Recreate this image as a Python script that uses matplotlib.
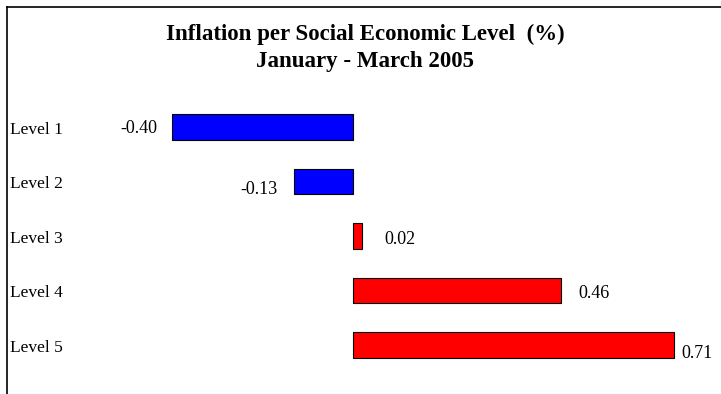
import matplotlib
matplotlib.use("Agg")
import matplotlib.pyplot as plt
from matplotlib.lines import Line2D
import matplotlib.transforms as mtransforms

levels = ["Level 1", "Level 2", "Level 3", "Level 4", "Level 5"]
inflation = [-0.40, -0.13, 0.02, 0.46, 0.71]
value_labels = ["-0.40", "-0.13", "0.02", "0.46", "0.71"]
# label offsets (pixels) from the bar end, as in the original layout
label_dx = [-15, -17, 22, 17, 7]
label_dy = [-2, -8, -4, -3, -9]

plt.rcParams["font.family"] = ["Liberation Serif", "DejaVu Serif"]

fig = plt.figure(figsize=(7.21, 3.94), dpi=100)
fig.patch.set_facecolor("white")
ax = fig.add_axes([0, 0, 1, 1])
ax.axis("off")

# 452 px per unit, zero at x=353 px; category pitch 54.5 px, first at y=127 px
ax.set_xlim(-353 / 452, (721 - 353) / 452)
ax.set_ylim((394 - 127) / 54.5, -127 / 54.5)

colors = ["#0000ff" if v < 0 else "#ff0000" for v in inflation]
ypos = list(range(len(levels)))
ax.barh(ypos, inflation, height=0.47, color=colors, edgecolor="black", linewidth=0.8)

for y, v, lab, dx, dy in zip(ypos, inflation, value_labels, label_dx, label_dy):
    ax.annotate(lab, (v, y), xytext=(dx, dy), textcoords="offset pixels",
                ha="right" if v < 0 else "left", va="center", fontsize=13)

# category names, left aligned near the frame
for y, name in zip(ypos, levels):
    ax.annotate(name, (10 / 721, y), xycoords=("axes fraction", "data"),
                xytext=(0, -3), textcoords="offset pixels",
                ha="left", va="center", fontsize=12.5)

fig.text(365 / 721, 1 - 34 / 394, "Inflation per Social Economic Level  (%)",
         ha="center", va="center", fontsize=16.5, fontweight="bold")
fig.text(365 / 721, 1 - 61 / 394, "January - March 2005",
         ha="center", va="center", fontsize=16.5, fontweight="bold")

# frame lines (top and left) of the chart area
fig.add_artist(Line2D([7 / 721, 1], [1 - 7 / 394, 1 - 7 / 394], color="black", lw=1.2))
fig.add_artist(Line2D([7 / 721, 7 / 721], [0, 1 - 7 / 394], color="black", lw=1.2))

fig.savefig("out.png", dpi=100, facecolor="white")
